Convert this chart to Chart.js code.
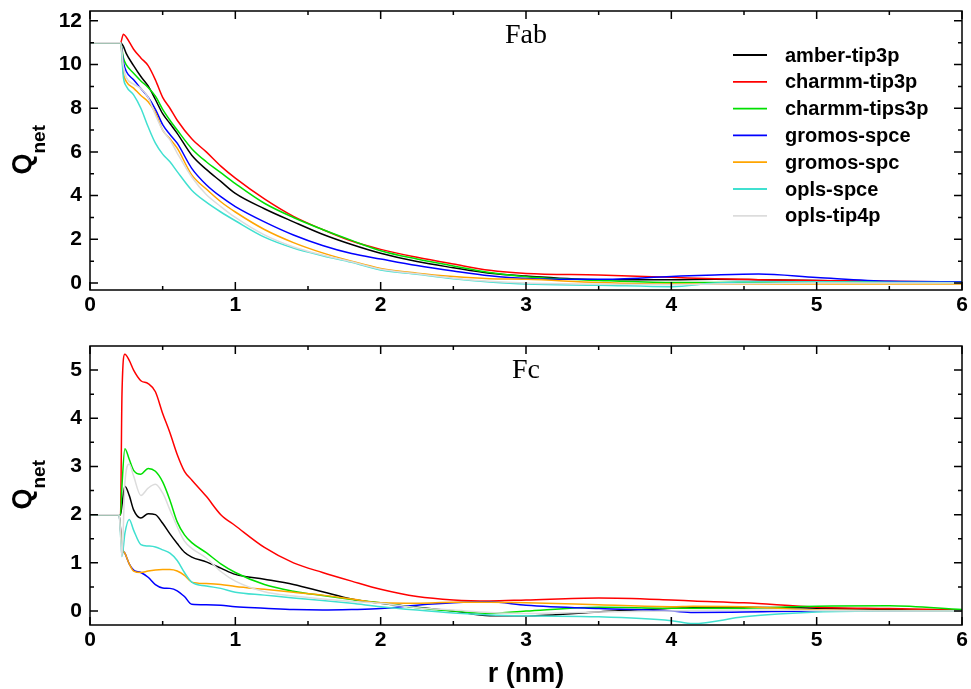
<!DOCTYPE html>
<html>
<head>
<meta charset="utf-8">
<script src="https://cdn.jsdelivr.net/npm/chart.js@4"></script>
<style>
  body { margin: 0; background: #fff; }
  .panel { position: absolute; left: 0; width: 971px; }
  #top { top: 0; height: 330px; }
  #bot { top: 315px; height: 374px; }
</style>
</head>
<body>
<div class="panel" id="top"><canvas id="fab"></canvas></div>
<div class="panel" id="bot"><canvas id="fc"></canvas></div>
<script>
// 力場組合
const seriesNames = ['amber-tip3p', 'charmm-tip3p', 'charmm-tips3p', 'gromos-spce', 'gromos-spc', 'opls-spce', 'opls-tip4p'];
const seriesColors = ['#000000', '#ff0000', '#00e000', '#0000ff', '#ffa500', '#40e0d0', '#dcdcdc'];

// 刻度
const rTicks = [0, 1, 2, 3, 4, 5, 6];
const rMinor = [0.5, 1.5, 2.5, 3.5, 4.5, 5.5];
const fabTicks = [0, 2, 4, 6, 8, 10, 12];
const fabMinor = [1, 3, 5, 7, 9, 11];
const fcTicks = [0, 1, 2, 3, 4, 5];
const fcMinor = [0.5, 1.5, 2.5, 3.5, 4.5];

// Fab
const rFab = [0, 0.21, 0.23, 0.25, 0.3, 0.35, 0.4, 0.45, 0.5, 0.55, 0.6, 0.7, 0.8, 0.9, 1.0, 1.2, 1.4, 1.6, 1.8, 2.0, 2.25, 2.5, 2.75, 3.0, 3.5, 4.0, 4.3, 4.6, 5.0, 5.5, 6.0];
const fabAmberTip3p = [11, 11, 10.83, 10.5, 9.95, 9.45, 9.02, 8.4, 7.75, 7.3, 6.85, 5.85, 5.2, 4.65, 4.1, 3.4, 2.8, 2.23, 1.76, 1.36, 0.98, 0.7, 0.45, 0.32, 0.15, 0.15, 0.17, 0.15, 0.11, 0.06, 0.02];
const fabCharmmTip3p = [11, 11, 11.39, 11.25, 10.7, 10.3, 9.95, 9.3, 8.5, 8.0, 7.45, 6.6, 6.0, 5.35, 4.8, 3.85, 3.05, 2.45, 1.92, 1.54, 1.18, 0.87, 0.58, 0.44, 0.37, 0.26, 0.19, 0.15, 0.11, 0.08, 0.05];
const fabCharmmTips3p = [11, 11, 10.3, 9.98, 9.6, 9.25, 8.95, 8.55, 7.95, 7.45, 7.0, 6.15, 5.55, 5.05, 4.55, 3.65, 3.0, 2.45, 1.95, 1.48, 1.1, 0.78, 0.48, 0.29, 0.12, 0.02, 0.02, 0.03, 0.06, 0.03, 0.0];
const fabGromosSpce = [11, 11, 10.1, 9.68, 9.3, 8.9, 8.5, 7.95, 7.25, 6.8, 6.4, 5.25, 4.5, 3.95, 3.5, 2.8, 2.2, 1.72, 1.35, 1.1, 0.8, 0.55, 0.33, 0.21, 0.17, 0.3, 0.37, 0.41, 0.25, 0.08, 0.06];
const fabGromosSpc = [11, 11, 9.6, 9.22, 8.92, 8.58, 8.3, 7.8, 7.0, 6.6, 6.17, 4.95, 4.3, 3.72, 3.25, 2.45, 1.85, 1.38, 1.0, 0.67, 0.45, 0.3, 0.2, 0.17, 0.02, -0.05, -0.05, -0.05, -0.05, -0.05, -0.05];
const fabOplsSpce = [11, 11, 9.4, 9.0, 8.61, 8.0, 7.15, 6.4, 5.9, 5.55, 5.1, 4.25, 3.7, 3.25, 2.85, 2.1, 1.6, 1.25, 0.95, 0.6, 0.4, 0.2, 0.05, -0.05, -0.1, -0.17, 0.0, 0.06, 0.06, 0.04, 0.02];
const fabOplsTip4p = [11, 11, 9.9, 9.4, 9.1, 8.9, 8.5, 7.7, 7.0, 6.55, 5.95, 4.85, 4.05, 3.5, 3.0, 2.2, 1.65, 1.28, 0.97, 0.63, 0.42, 0.22, 0.08, 0.0, -0.05, -0.08, -0.05, -0.02, 0.0, 0.0, 0.0];

// Fc
const rFc = [0, 0.2, 0.21, 0.22, 0.24, 0.27, 0.3, 0.35, 0.4, 0.45, 0.5, 0.55, 0.6, 0.65, 0.7, 0.8, 0.9, 1.0, 1.2, 1.4, 1.6, 1.8, 2.0, 2.25, 2.5, 2.75, 3.0, 3.5, 4.0, 4.15, 4.5, 5.0, 5.5, 6.0];
const fcAmberTip3p = [2, 2, 2.0, 2.2, 2.59, 2.4, 2.1, 1.93, 2.02, 2.0, 1.82, 1.6, 1.4, 1.22, 1.12, 1.02, 0.89, 0.76, 0.66, 0.55, 0.4, 0.25, 0.16, 0.08, 0.0, -0.1, -0.1, -0.02, 0.06, 0.07, 0.08, 0.06, 0.03, 0.0];
const fcCharmmTip3p = [2, 2, 2.0, 4.5, 5.33, 5.2, 5.0, 4.78, 4.72, 4.55, 4.1, 3.7, 3.25, 2.9, 2.72, 2.38, 2.0, 1.77, 1.32, 1.0, 0.8, 0.62, 0.45, 0.3, 0.23, 0.21, 0.23, 0.27, 0.23, 0.21, 0.17, 0.08, 0.05, 0.02];
const fcCharmmTips3p = [2, 2, 2.0, 2.6, 3.37, 3.15, 2.92, 2.84, 2.96, 2.9, 2.68, 2.3, 1.85, 1.58, 1.42, 1.21, 0.98, 0.8, 0.55, 0.41, 0.32, 0.24, 0.17, 0.07, 0.0, -0.05, 0.0, 0.08, 0.06, 0.06, 0.06, 0.1, 0.11, 0.03];
const fcGromosSpce = [2, 2, 1.7, 1.33, 1.2, 0.98, 0.85, 0.8, 0.7, 0.55, 0.48, 0.47, 0.42, 0.3, 0.14, 0.13, 0.12, 0.09, 0.06, 0.03, 0.02, 0.03, 0.05, 0.12, 0.17, 0.19, 0.12, 0.05, 0.0, -0.03, -0.02, 0.0, 0.0, 0.0];
const fcGromosSpc = [2, 2, 1.7, 1.33, 1.2, 0.98, 0.83, 0.8, 0.83, 0.85, 0.86, 0.86, 0.83, 0.74, 0.6, 0.57, 0.55, 0.51, 0.45, 0.39, 0.33, 0.25, 0.17, 0.16, 0.18, 0.18, 0.17, 0.13, 0.09, 0.1, 0.09, 0.02, 0.01, 0.0];
const fcOplsSpce = [2, 2, 1.6, 1.13, 1.61, 1.9, 1.68, 1.38, 1.35, 1.33, 1.27, 1.2, 1.05, 0.8, 0.6, 0.52, 0.47, 0.39, 0.33, 0.27, 0.22, 0.16, 0.09, 0.02, -0.04, -0.08, -0.1, -0.12, -0.2, -0.26, -0.12, -0.02, 0.0, 0.0];
const fcOplsTip4p = [2, 2, 1.6, 1.13, 2.65, 3.05, 2.8, 2.4, 2.55, 2.63, 2.45, 2.1, 1.75, 1.45, 1.3, 1.1, 0.82, 0.62, 0.4, 0.31, 0.25, 0.2, 0.16, 0.07, 0.02, -0.03, -0.05, -0.02, 0.0, 0.01, 0.02, 0.01, 0.0, 0.0];

const fabSeries = [fabAmberTip3p, fabCharmmTip3p, fabCharmmTips3p, fabGromosSpce, fabGromosSpc, fabOplsSpce, fabOplsTip4p];
const fcSeries = [fcAmberTip3p, fcCharmmTip3p, fcCharmmTips3p, fcGromosSpce, fcGromosSpc, fcOplsSpce, fcOplsTip4p];

const sansBold = (size) => ({ family: '"Liberation Sans", Arial, sans-serif', weight: 'bold', size: size });

function makeDatasets(r, series) {
  return series.map((ys, i) => ({
    label: seriesNames[i],
    data: ys.map((v, k) => ({ x: r[k], y: v })),
    borderColor: seriesColors[i],
    borderWidth: 1.5,
    pointRadius: 0,
    cubicInterpolationMode: 'monotone',
    order: seriesNames.length - i
  }));
}

// 外框、向內刻度、圖例與標題
const framePlugin = {
  id: 'frame',
  afterDraw(chart, args, opts) {
    const { ctx, chartArea: a, scales: { x, y } } = chart;
    ctx.save();
    ctx.strokeStyle = '#000';
    ctx.lineWidth = 1.5;
    ctx.strokeRect(a.left, a.top, a.right - a.left, a.bottom - a.top);

    ctx.beginPath();
    const tickX = (v, len) => {
      const px = x.getPixelForValue(v);
      ctx.moveTo(px, a.bottom); ctx.lineTo(px, a.bottom - len);
      ctx.moveTo(px, a.top); ctx.lineTo(px, a.top + len);
    };
    const tickY = (v, len) => {
      const py = y.getPixelForValue(v);
      ctx.moveTo(a.left, py); ctx.lineTo(a.left + len, py);
      ctx.moveTo(a.right, py); ctx.lineTo(a.right - len, py);
    };
    rTicks.forEach(v => tickX(v, 8));
    rMinor.forEach(v => tickX(v, 4));
    opts.yTicks.forEach(v => tickY(v, 8));
    opts.yMinor.forEach(v => tickY(v, 4));
    ctx.stroke();

    // 面板名稱
    ctx.fillStyle = '#000';
    ctx.font = '28px "Liberation Serif", "Times New Roman", serif';
    ctx.textAlign = 'center';
    ctx.textBaseline = 'alphabetic';
    ctx.fillText(opts.name, (a.left + a.right) / 2, a.top + 32);

    // Q_net
    const cy = (a.top + a.bottom) / 2 - 3;
    ctx.save();
    ctx.translate(20, cy);
    ctx.rotate(-Math.PI / 2);
    ctx.textAlign = 'left';
    ctx.font = 'bold 27px "Liberation Sans", Arial, sans-serif';
    ctx.fillText('Q', -27, 11);
    ctx.font = 'bold 19px "Liberation Sans", Arial, sans-serif';
    ctx.fillText('net', -6, 25);
    ctx.restore();

    if (opts.legend) {
      ctx.textAlign = 'left';
      ctx.textBaseline = 'middle';
      ctx.font = 'bold 20px "Liberation Sans", Arial, sans-serif';
      chart.data.datasets.forEach((ds, i) => {
        const ly = 55 + i * 26.8;
        ctx.strokeStyle = ds.borderColor;
        ctx.lineWidth = 1.8;
        ctx.beginPath();
        ctx.moveTo(733, ly); ctx.lineTo(767, ly);
        ctx.stroke();
        ctx.fillText(ds.label, 785, ly + 1);
      });
    }
    ctx.restore();
  }
};

function makeChart(id, r, series, yMin, yMax, yTicks, yMinor, name, padTop, padBottom, xHeight, withTitle, legend) {
  return new Chart(document.getElementById(id), {
    type: 'line',
    data: { datasets: makeDatasets(r, series) },
    options: {
      responsive: true,
      maintainAspectRatio: false,
      animation: false,
      layout: { autoPadding: false, padding: { top: padTop, right: 9, left: 0, bottom: padBottom } },
      plugins: {
        legend: { display: false },
        tooltip: { enabled: false },
        frame: { name: name, yTicks: yTicks, yMinor: yMinor, legend: legend }
      },
      scales: {
        x: {
          type: 'linear',
          min: 0,
          max: 6,
          afterBuildTicks: s => { s.ticks = rTicks.map(v => ({ value: v })); },
          afterFit: s => { s.height = xHeight; s.paddingLeft = 0; s.paddingRight = 0; },
          grid: { display: false, drawTicks: false },
          border: { display: false },
          ticks: { color: '#000', font: sansBold(21), padding: 3, maxRotation: 0 },
          title: {
            display: withTitle,
            text: 'r (nm)',
            color: '#000',
            font: sansBold(27),
            padding: { top: 0, bottom: -2 }
          }
        },
        y: {
          type: 'linear',
          min: yMin,
          max: yMax,
          afterBuildTicks: s => { s.ticks = yTicks.map(v => ({ value: v })); },
          afterFit: s => { s.width = 90; s.paddingTop = 0; s.paddingBottom = 0; },
          grid: { display: false, drawTicks: false },
          border: { display: false },
          ticks: { color: '#000', font: sansBold(21), padding: 8 }
        }
      }
    },
    plugins: [framePlugin]
  });
}

makeChart('fab', rFab, fabSeries, -0.32, 12.45, fabTicks, fabMinor, 'Fab', 11, 15, 25, false, true);
makeChart('fc', rFc, fcSeries, -0.29, 5.5, fcTicks, fcMinor, 'Fc', 31, 0, 64, true, false);
</script>
</body>
</html>
